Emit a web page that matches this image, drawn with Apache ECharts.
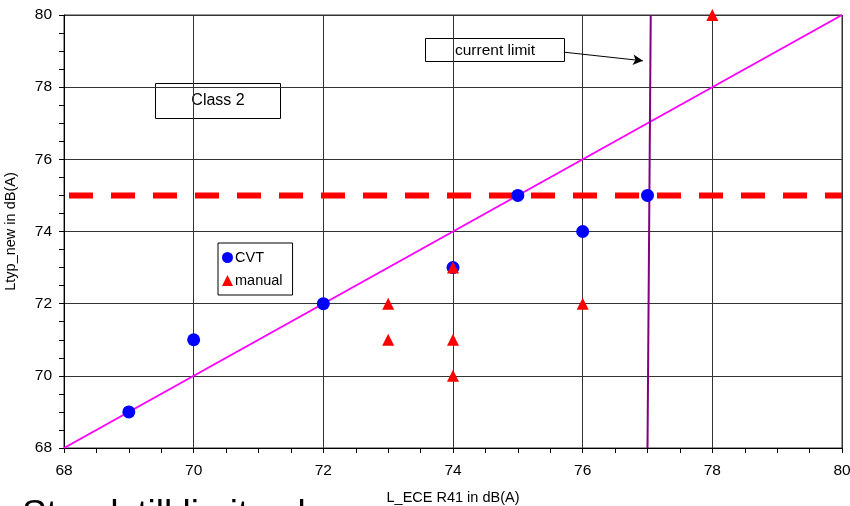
<!DOCTYPE html>
<html>
<head>
<meta charset="utf-8">
<script src="https://cdn.jsdelivr.net/npm/echarts@6/dist/echarts.min.js"></script>
<style>
html,body{margin:0;padding:0;background:#fff;}
#chart{width:850px;height:506px;}
</style>
</head>
<body>
<div id="chart"></div>
<script>
// ---- data ----
const cvtX = [69, 70, 72, 74, 75, 76, 77];
const cvtY = [69, 71, 72, 73, 75, 74, 75];
const manualX = [73, 73, 74, 74, 74, 76, 78];
const manualY = [72, 71, 73, 71, 70, 72, 80];
const diagX = [68, 80];
const diagY = [68, 80];
const limitX = [68, 80];
const limitY = [75, 75];
const currentX = [77, 77.05];
const currentY = [68, 80];
const arrowFrom = [75.71, 78.97];
const arrowTo = [76.93, 78.73];
const axisMin = 68, axisMax = 80, axisStep = 2;
const xName = 'L_ECE R41 in dB(A)';
const yName = 'Ltyp_new in dB(A)';
const seriesNames = ['CVT', 'manual'];
const classLabel = 'Class 2';
const currentLabel = 'current limit';
const bottomText = 'Standstill limit value';

const zip = (a, b) => a.map((v, i) => [v, b[i]]);
const FONT = 'Liberation Sans, Arial, sans-serif';

const chart = echarts.init(document.getElementById('chart'), null, {renderer: 'canvas'});

const axisCommon = {
  min: axisMin, max: axisMax, interval: axisStep,
  axisLine: {show: true, lineStyle: {color: '#000', width: 1}},
  axisTick: {show: true, length: 5, lineStyle: {color: '#000'}},
  minorTick: {show: true, splitNumber: 4, length: 5, lineStyle: {color: '#000'}},
  splitLine: {show: true, lineStyle: {color: '#333', width: 1}},
  axisLabel: {color: '#000', fontSize: 15.5, fontFamily: FONT},
  nameLocation: 'middle',
  nameTextStyle: {color: '#000', fontSize: 14.5, fontFamily: FONT}
};

chart.setOption({
  animation: false,
  backgroundColor: '#fff',
  grid: {left: 64, right: 8, top: 15, bottom: 58, containLabel: false, outerBoundsMode: 'none',
         show: true, borderColor: '#333', borderWidth: 1},
  xAxis: Object.assign({}, axisCommon, {
    type: 'value', name: xName, nameGap: 42,
    axisLabel: Object.assign({}, axisCommon.axisLabel, {margin: 15})
  }),
  yAxis: Object.assign({}, axisCommon, {
    type: 'value', name: yName, nameGap: 46,
    axisLabel: Object.assign({}, axisCommon.axisLabel, {margin: 12})
  }),
  legend: {
    orient: 'vertical', left: 218, top: 243,
    data: [{name: seriesNames[0], icon: 'circle'}, {name: seriesNames[1], icon: 'triangle'}],
    itemWidth: 11, itemHeight: 11, itemGap: 8,
    padding: [7, 10, 7, 4],
    borderColor: '#000', borderWidth: 1, borderRadius: 0, backgroundColor: '#fff',
    textStyle: {color: '#000', fontSize: 14.5, fontFamily: FONT, padding: [0, 0, 0, -3]}
  },
  series: [
    {
      type: 'line', data: zip(diagX, diagY), symbol: 'none', silent: true,
      lineStyle: {color: '#FF00FF', width: 2}, z: 2
    },
    {
      type: 'line', data: zip(limitX, limitY), symbol: 'none', silent: true,
      lineStyle: {color: '#FF0000', width: 6, type: [24, 18], dashOffset: 37, cap: 'butt'}, z: 3
    },
    {
      type: 'line', data: zip(currentX, currentY), symbol: 'none', silent: true,
      lineStyle: {color: '#800080', width: 2}, z: 3,
      markLine: {
        silent: true, symbol: ['none', 'arrow'], symbolSize: [8, 10],
        lineStyle: {color: '#000', width: 1, type: 'solid'},
        label: {show: false},
        data: [[{coord: arrowFrom}, {coord: arrowTo}]]
      }
    },
    {
      name: seriesNames[0], type: 'scatter', data: zip(cvtX, cvtY),
      symbol: 'circle', symbolSize: 13, itemStyle: {color: '#0000FF', opacity: 1}, z: 5
    },
    {
      name: seriesNames[1], type: 'scatter', data: zip(manualX, manualY),
      symbol: 'triangle', symbolSize: 12, itemStyle: {color: '#FF0000', opacity: 1}, z: 6
    }
  ],
  graphic: [
    {
      type: 'group', left: 155, top: 83, z: 10,
      children: [
        {type: 'rect', shape: {x: 0, y: 0, width: 125, height: 35}, style: {fill: '#fff', stroke: '#000', lineWidth: 1}},
        {type: 'text', x: 62.5, y: 17.5, style: {text: classLabel, fill: '#000', font: '16px ' + FONT, align: 'center', verticalAlign: 'middle'}}
      ]
    },
    {
      type: 'group', left: 425, top: 38, z: 10,
      children: [
        {type: 'rect', shape: {x: 0, y: 0, width: 139, height: 23}, style: {fill: '#fff', stroke: '#000', lineWidth: 1}},
        {type: 'text', x: 69.5, y: 12, style: {text: currentLabel, fill: '#000', font: '15.5px ' + FONT, align: 'center', verticalAlign: 'middle'}}
      ]
    },
    {
      type: 'text', left: 22, top: 497, z: 1,
      style: {text: bottomText, fill: '#000', font: '37px ' + FONT}
    }
  ]
});
</script>
</body>
</html>
